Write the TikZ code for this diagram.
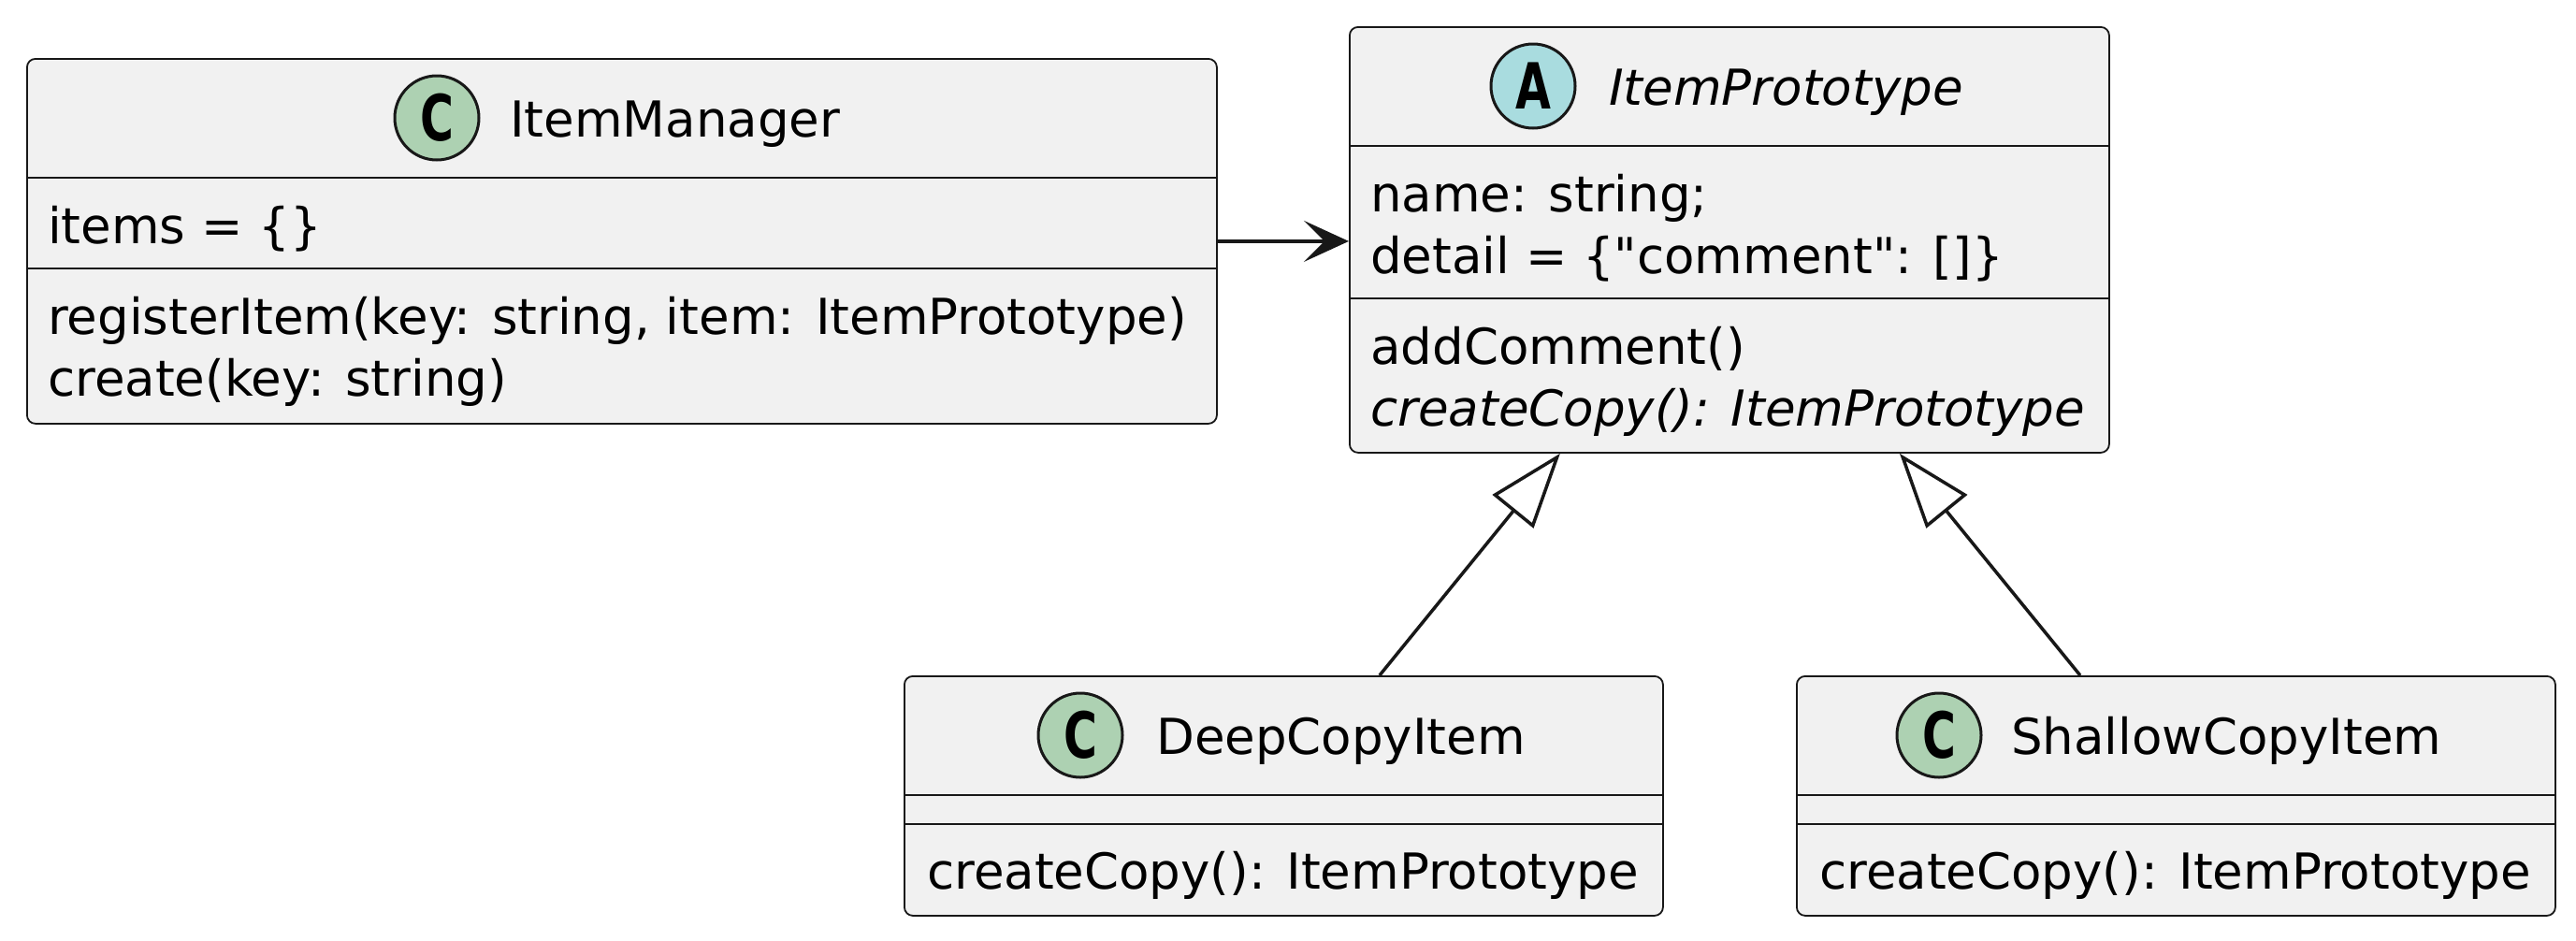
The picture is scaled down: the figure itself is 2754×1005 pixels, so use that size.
\documentclass[tikz,border=0pt]{standalone}
\usepackage{fontspec}
\setmainfont{DejaVu Sans}
\usetikzlibrary{arrows.meta}
\definecolor{boxfill}{HTML}{F1F1F1}
\definecolor{boxline}{HTML}{181818}
\definecolor{classc}{HTML}{ADD1B2}
\definecolor{abstc}{HTML}{A9DCDF}
\begin{document}
\begin{tikzpicture}[x=1pt,y=-1pt,
 cls/.style={draw=boxline, fill=boxfill, line width=1.8pt, rounded corners=9pt, anchor=north west, inner sep=0pt},
 sepline/.style={draw=boxline, line width=1.8pt},
 txt/.style={anchor=base west, inner sep=0pt, font=\fontsize{53}{66}\selectfont},
 badge/.style={circle, draw=boxline, line width=3pt, minimum size=90pt, inner sep=0pt, font=\fontsize{68}{68}\selectfont\bfseries},
 assoc/.style={draw=boxline, line width=3.3pt, -{Stealth[length=48pt,width=44pt,inset=22pt]}},
 inh/.style={draw=boxline, line width=3.5pt, -{Triangle[open,length=80pt,width=56pt]}},
]
\useasboundingbox (0,0) rectangle (2754,1005);

% ItemManager
\node[cls, minimum width=1272pt, minimum height=390pt] (im) at (28,62) {};
\draw[sepline] (28,190) -- (1300,190);
\draw[sepline] (28,287) -- (1300,287);
\node[badge, fill=classc] (imb) at (467,126) {\scalebox{0.72}[1]{C}};
\node[txt] (imt) at (545,146) {ItemManager};
\node[txt] (ima) at (51,260) {items = \{\}};
\node[txt] (imm1) at (51,357) {registerItem(key: string, item: ItemPrototype)};
\node[txt] (imm2) at (51,423) {create(key: string)};

% ItemPrototype
\node[cls, minimum width=812pt, minimum height=455pt] (ip) at (1442,28) {};
\draw[sepline] (1442,156) -- (2254,156);
\draw[sepline] (1442,319) -- (2254,319);
\node[badge, fill=abstc] (ipb) at (1639,92) {\scalebox{0.72}[1]{A}};
\node[txt] (ipt) at (1720,112) {\itshape ItemPrototype};
\node[txt] (ipa1) at (1465,226) {name: string;};
\node[txt] (ipa2) at (1465,292) {detail = \{\textquotedbl comment\textquotedbl: []\}};
\node[txt] (ipm1) at (1465,389) {addComment()};
\node[txt] (ipm2) at (1465,455) {\itshape createCopy(): ItemPrototype};

% DeepCopyItem
\node[cls, minimum width=811pt, minimum height=256pt] (deep) at (966,722) {};
\draw[sepline] (966,850) -- (1777,850);
\draw[sepline] (966,881) -- (1777,881);
\node[badge, fill=classc] (deepb) at (1155,786) {\scalebox{0.72}[1]{C}};
\node[txt] (deept) at (1236,806) {DeepCopyItem};
\node[txt] (deepm) at (991,950) {createCopy(): ItemPrototype};

% ShallowCopyItem
\node[cls, minimum width=811pt, minimum height=256pt] (shal) at (1920,722) {};
\draw[sepline] (1920,850) -- (2731,850);
\draw[sepline] (1920,881) -- (2731,881);
\node[badge, fill=classc] (shalb) at (2073,786) {\scalebox{0.72}[1]{C}};
\node[txt] (shalt) at (2150,806) {ShallowCopyItem};
\node[txt] (shalm) at (1945,950) {createCopy(): ItemPrototype};

% connectors
\draw[assoc] (im.east) -- (im.east -| ip.west);
\draw[inh] ([xshift=102.5pt]deep.north) -- ([xshift=-181pt]ip.south);
\draw[inh] ([xshift=-102.5pt]shal.north) -- ([xshift=182pt]ip.south);
\end{tikzpicture}
\end{document}
